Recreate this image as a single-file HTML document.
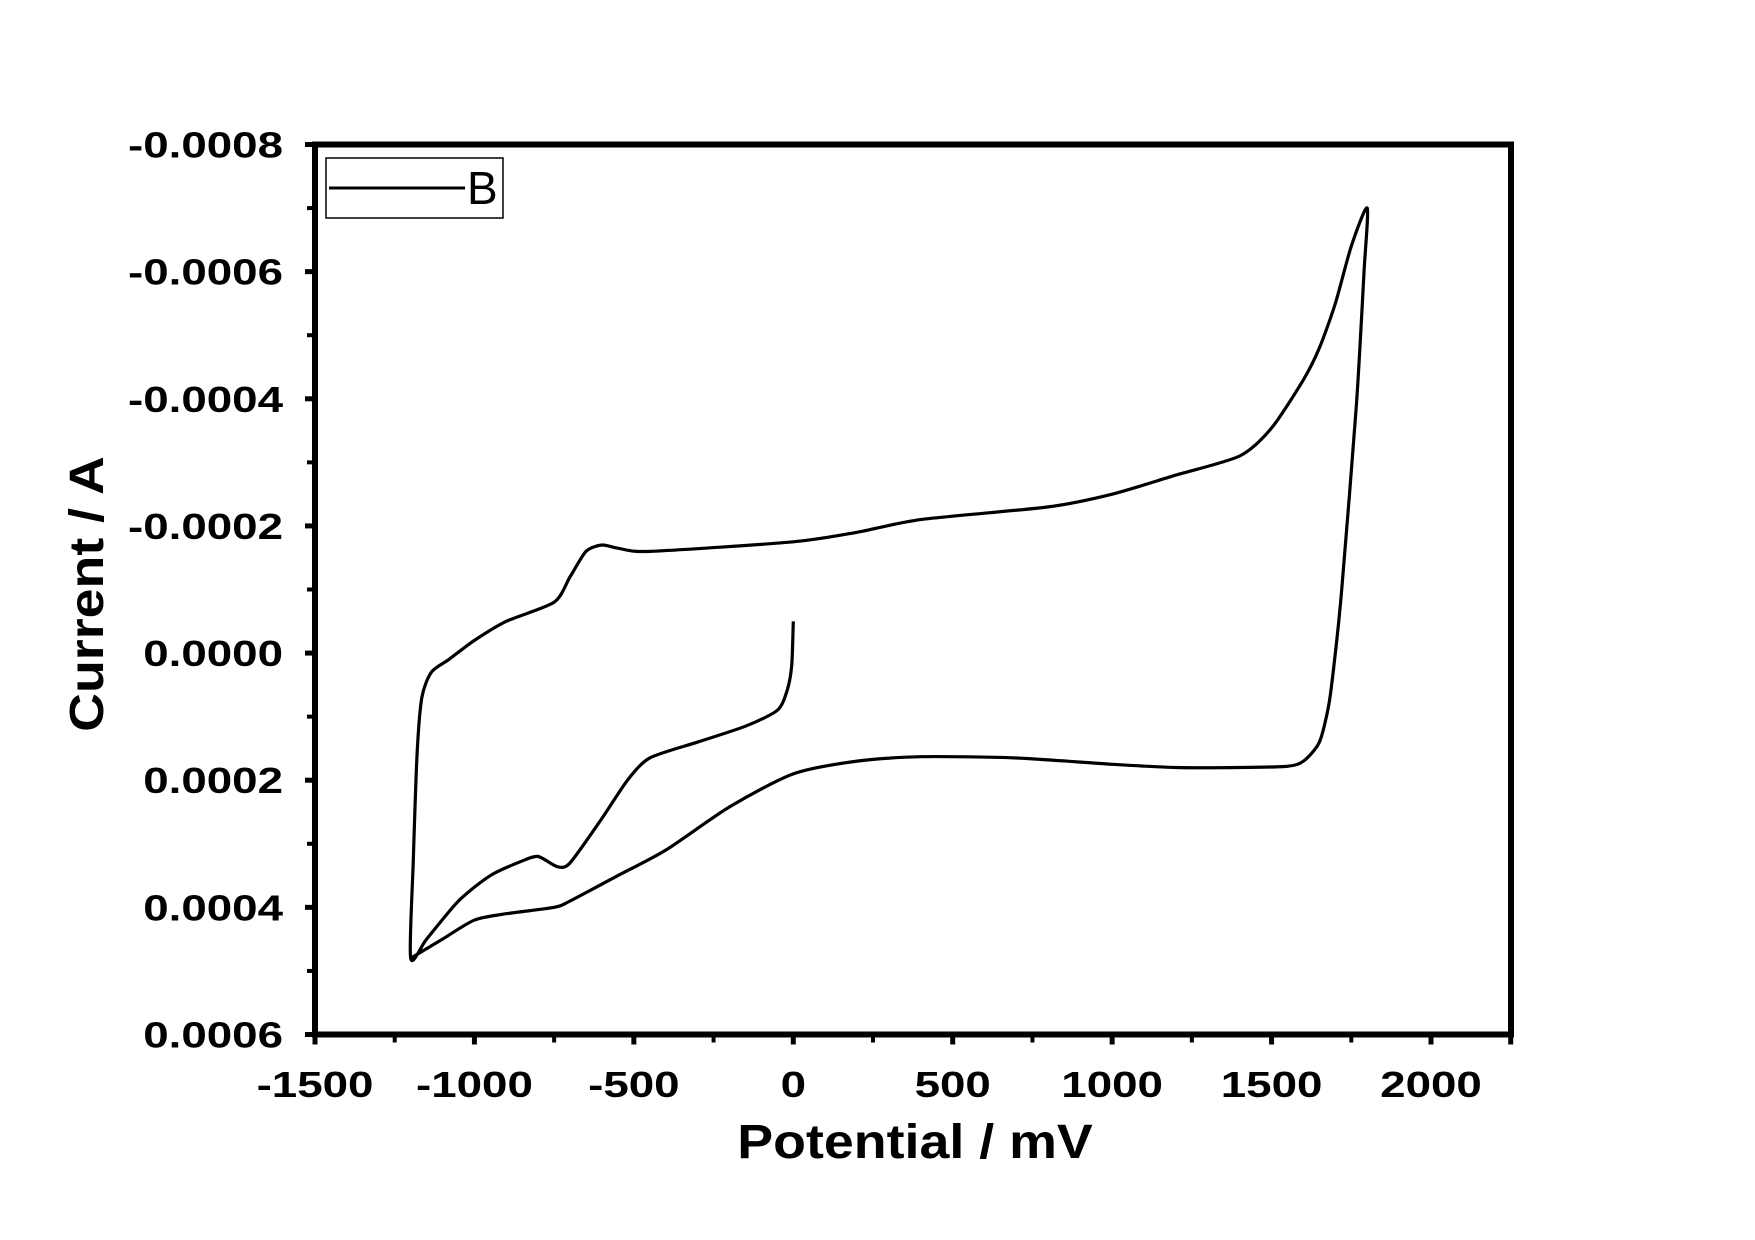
<!DOCTYPE html>
<html><head><meta charset="utf-8"><style>
html,body{margin:0;padding:0;background:#fff;}
svg{display:block;font-family:"Liberation Sans",Arial,sans-serif;}
</style></head><body>
<svg id="chart" width="1755" height="1240" viewBox="0 0 1755 1240" xmlns="http://www.w3.org/2000/svg">
<rect width="1755" height="1240" fill="#fff"/>
<g id="axes"></g>
<g id="series"></g>
<g>
  <rect x="326" y="158" width="177" height="60" fill="#fff" stroke="#000" stroke-width="1.5"/>
  <line x1="329" y1="188" x2="465" y2="188" stroke="#000" stroke-width="3"/>
  <text x="467" y="204" font-size="46">B</text>
</g>
<text transform="translate(915,1158) scale(1.12,1)" text-anchor="middle" font-size="48" font-weight="bold">Potential / mV</text>
<text transform="translate(103,594) rotate(-90) scale(1.12,1)" text-anchor="middle" font-size="48" font-weight="bold">Current / A</text>
</svg>
<script>
const xTicks = [-1500,-1000,-500,0,500,1000,1500,2000];
const xTickLabels = ["-1500","-1000","-500","0","500","1000","1500","2000"];
const yTicks = [-0.0008,-0.0006,-0.0004,-0.0002,0,0.0002,0.0004,0.0006];
const yTickLabels = ["-0.0008","-0.0006","-0.0004","-0.0002","0.0000","0.0002","0.0004","0.0006"];
const potential = [0,-5,-20,-50,-150,-300,-450,-520,-600,-700,-740,-800,-850,-950,-1050,-1150,-1200,
 -1192,-1180,-1165,-1135,-1080,-1000,-900,-750,-700,-650,-600,-550,-450,0,200,400,800,1000,1200,1400,1500,1600,1650,1700,1750,1800,
 1790,1766,1720,1700,1680,1650,1600,1550,1400,1200,1000,700,400,200,0,-200,-400,-550,-700,-750,-900,-1000,-1100,-1200];
const current = [-0.00005,0.00002,0.00006,0.00009,0.000115,0.00014,0.000165,0.0002,0.00026,0.00033,0.000336,0.00032,0.000327,0.00035,0.00039,0.00045,0.00048,
 0.00033,0.00016,0.00007,0.00003,0.00001,-0.00002,-0.00005,-0.00008,-0.00012,-0.00016,-0.00017,-0.000165,-0.00016,-0.000175,-0.00019,-0.00021,-0.00023,-0.00025,-0.00028,-0.00031,-0.000354,-0.00043,-0.00048,-0.00055,-0.00064,-0.0007,
 -0.0006,-0.00039,-0.0001,0.0,0.00008,0.00014,0.00017,0.000178,0.00018,0.00018,0.000175,0.000165,0.000163,0.00017,0.00019,0.000242,0.00031,0.00035,0.00039,0.0004,0.00041,0.00042,0.00045,0.00048];

const X0=315, X1=1511, Y0=144.5, Y1=1034.5;
const xs = v => X0 + (v + 1500) * (1431 - 315) / 3500;
const ys = v => Y0 + (v + 0.0008) * (Y1 - Y0) / 0.0014;
const NS="http://www.w3.org/2000/svg";
const axes=document.getElementById('axes');
function mk(tag,attrs,parent){const e=document.createElementNS(NS,tag);for(const k in attrs)e.setAttribute(k,attrs[k]);parent.appendChild(e);return e;}

const frame=mk('rect',{x:X0,y:Y0,width:X1-X0,height:Y1-Y0,fill:'none',stroke:'#000','stroke-width':6},axes);



xTicks.forEach((v,i)=>{
  const t=mk('line',{x1:xs(v),x2:xs(v),y1:Y1,y2:Y1+10,stroke:'#000','stroke-width':5},axes);
  
  
  if(i<xTicks.length-1){
    const m=mk('line',{x1:xs(v+250),x2:xs(v+250),y1:Y1,y2:Y1+8,stroke:'#000','stroke-width':4},axes);
    
    
  }
  const l=mk('text',{transform:'translate('+xs(v)+',1097) scale(1.27,1)','text-anchor':'middle','font-size':36,'font-weight':'bold'},axes);
  l.textContent=xTickLabels[i];
  
  
});
const mr=mk('line',{x1:xs(2250),x2:xs(2250),y1:Y1,y2:Y1+10,stroke:'#000','stroke-width':5},axes);



yTicks.forEach((v,i)=>{
  const t=mk('line',{x1:X0-10,x2:X0,y1:ys(v),y2:ys(v),stroke:'#000','stroke-width':5},axes);
  
  
  if(i<yTicks.length-1){
    const m=mk('line',{x1:X0-8,x2:X0,y1:ys(v+0.0001),y2:ys(v+0.0001),stroke:'#000','stroke-width':4},axes);
    
    
  }
  const l=mk('text',{transform:'translate(283,'+(ys(v)+13)+') scale(1.27,1)','text-anchor':'end','font-size':36,'font-weight':'bold'},axes);
  l.textContent=yTickLabels[i];
  
  
});

const pts=potential.map((v,i)=>[xs(v),ys(current[i])]);
let d='M'+pts[0][0]+','+pts[0][1];
for(let i=0;i<pts.length-1;i++){
  const p0=pts[Math.max(0,i-1)],p1=pts[i],p2=pts[i+1],p3=pts[Math.min(pts.length-1,i+2)];
  const t=1/8;
  const c1=[p1[0]+(p2[0]-p0[0])*t,p1[1]+(p2[1]-p0[1])*t];
  const c2=[p2[0]-(p3[0]-p1[0])*t,p2[1]-(p3[1]-p1[1])*t];
  d+=' C'+c1[0]+','+c1[1]+' '+c2[0]+','+c2[1]+' '+p2[0]+','+p2[1];
}
const path=mk('path',{d:d,fill:'none',stroke:'#000','stroke-width':3.2,'stroke-linejoin':'round'},document.getElementById('series'));


</script>
</body></html>
